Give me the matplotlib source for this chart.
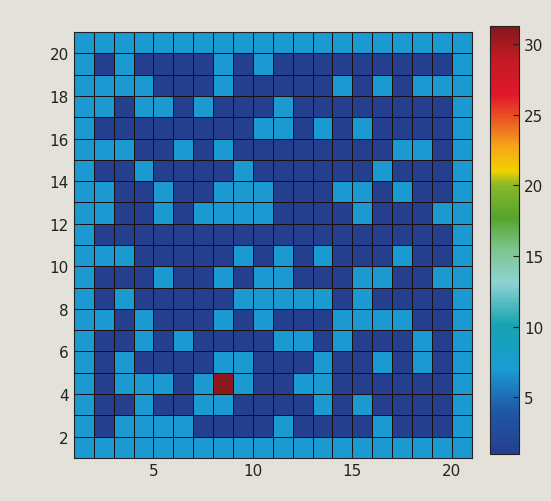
import numpy as np
import matplotlib
matplotlib.use("Agg")
import matplotlib.pyplot as plt
from matplotlib.colors import LinearSegmentedColormap

# cell pattern, top row (y=20..21) first
# D = dark blue, L = light blue, R = the single red cell
rows_top_down = [
    "LLLLLLLLLLLLLLLLLLLL",
    "LDLDDDDLDLDDDDDDDDDL",
    "LLLLDDDLDDDDDLDLDLLL",
    "LLDLLDLDDDLDDDDDDDDL",
    "LDDDDDDDDLLDLDLDDDDL",
    "LLLDDLDLDDDDDDDDLLDL",
    "LDDLDDDDLDDDDDDLDDDL",
    "LLDDLDDLLLDDDLLDLDDL",
    "LLDDLDLLLLDDDDLDDDLL",
    "LDDDDDDDDDDDDDDDDDDL",
    "LLLDDDDDLDLDLDDDLDDL",
    "LDDDLDDLDLLDDDLLDDLL",
    "LDLDDDDDLLLLLDLDDDDL",
    "LLDLDDDLDLDDDLLLLDDL",
    "LDDLDLDDDDLLDLDDDLDL",
    "LDLDDDDLLDDDLDDLDLDL",
    "LDLLLDLRLDDLLDDDDDDL",
    "LDDLDDLLDDDDLDLDDDDL",
    "LDLLLLDDDDLDDDDLDDDL",
    "LLLLLLLLLLLLLLLLLLLL",
]
level_values = {"D": 1, "L": 7, "R": 31}

x_edges = list(range(1, 22))
y_edges = list(range(1, 22))
x_ticks = [5, 10, 15, 20]
y_ticks = [2, 4, 6, 8, 10, 12, 14, 16, 18, 20]
cbar_ticks = [5, 10, 15, 20, 25, 30]

Z = np.array([[level_values[c] for c in r] for r in rows_top_down[::-1]], dtype=float)

# colour scale as printed beside the map
cmap = LinearSegmentedColormap.from_list("scan", [
    (0.00, "#243f8e"),
    (0.10, "#1f58a6"),
    (0.20, "#1a9dd3"),
    (0.30, "#16a3b0"),
    (0.40, "#8fd2d2"),
    (0.48, "#7cc48a"),
    (0.55, "#55a52c"),
    (0.63, "#8cb82a"),
    (0.66, "#f0d200"),
    (0.72, "#f5a418"),
    (0.78, "#ea5a22"),
    (0.84, "#e0182a"),
    (0.92, "#c41a24"),
    (1.00, "#84191c"),
])

bg = "#e4e1da"
fig = plt.figure(figsize=(5.51, 5.02), dpi=100, facecolor=bg)
ax = fig.add_axes([0.134, 0.086, 0.722, 0.848])
mesh = ax.pcolormesh(x_edges, y_edges, Z, cmap=cmap, vmin=1, vmax=31.3,
                     edgecolors="#1a1010", linewidth=0.6)
ax.set_xlim(1, 21)
ax.set_ylim(1, 21)
ax.set_xticks(x_ticks)
ax.set_yticks(y_ticks)
ax.tick_params(direction="in", length=4, labelsize=11, colors="#222222")
for s in ax.spines.values():
    s.set_color("#222222")

cax = fig.add_axes([0.889, 0.094, 0.053, 0.853])
cb = fig.colorbar(mesh, cax=cax, ticks=cbar_ticks)
cb.ax.tick_params(direction="in", length=4, labelsize=11, colors="#222222")
cb.outline.set_edgecolor("#222222")

fig.savefig("out.png", dpi=100, facecolor=bg)
